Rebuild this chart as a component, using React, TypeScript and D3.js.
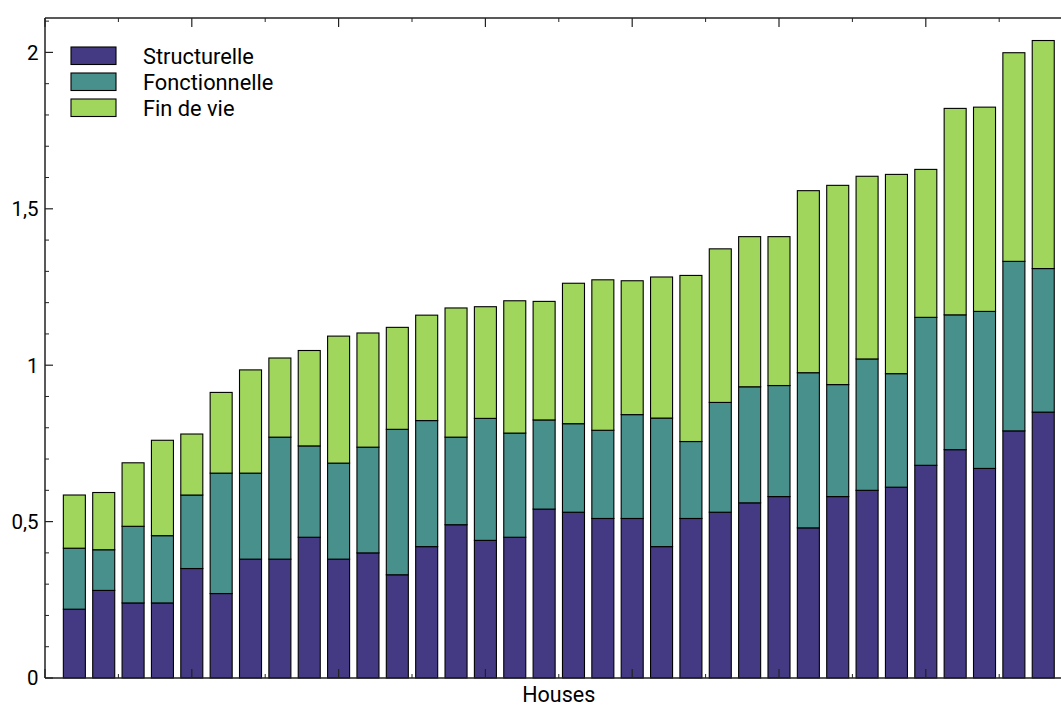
import React from "react";
import * as d3 from "d3";

const houses = d3.range(1, 35);
const structurelle = [0.22, 0.28, 0.24, 0.24, 0.35, 0.27, 0.38, 0.38, 0.45, 0.38, 0.4, 0.33, 0.42, 0.49, 0.44, 0.45, 0.54, 0.53, 0.51, 0.51, 0.42, 0.51, 0.53, 0.56, 0.58, 0.48, 0.58, 0.6, 0.61, 0.68, 0.73, 0.67, 0.79, 0.85];
const fonctionnelle = [0.195, 0.13, 0.245, 0.215, 0.235, 0.385, 0.275, 0.39, 0.292, 0.307, 0.338, 0.465, 0.403, 0.28, 0.39, 0.333, 0.285, 0.283, 0.282, 0.332, 0.411, 0.246, 0.351, 0.371, 0.355, 0.496, 0.358, 0.42, 0.363, 0.473, 0.431, 0.502, 0.542, 0.459];
const finDeVie = [0.17, 0.183, 0.203, 0.305, 0.195, 0.258, 0.33, 0.253, 0.305, 0.406, 0.365, 0.326, 0.337, 0.413, 0.357, 0.423, 0.379, 0.449, 0.481, 0.428, 0.451, 0.531, 0.491, 0.48, 0.476, 0.582, 0.637, 0.584, 0.637, 0.473, 0.66, 0.653, 0.667, 0.729];
const seriesNames = ["Structurelle", "Fonctionnelle", "Fin de vie"];
const seriesColors = ["#443a83", "#48908b", "#a0d65b"];
const yTickValues = [0, 0.5, 1, 1.5, 2];
const yTickLabels = ["0", "0,5", "1", "1,5", "2"];
const xLabel = "Houses";

const W = 1061;
const H = 706;
const left = 45;
const top = 18;
const bottom = 678;
const right = 1072.6;
const font = "Roboto, 'Noto Sans', sans-serif";
const axisColor = "#222";

export default function App() {
  const x = d3.scaleLinear().domain([0, 35]).range([left, right]);
  const y = d3.scaleLinear().domain([0, 2.11]).range([bottom, top]);
  const rows = houses.map((h, i) => ({
    h,
    s0: structurelle[i],
    s1: fonctionnelle[i],
    s2: finDeVie[i],
  }));
  const stack = d3.stack<any>().keys(["s0", "s1", "s2"])(rows);
  const bw = x(0.75) - x(0);
  const minorY = d3.range(0, 2.11, 0.1).filter((v) => Math.abs(v * 2 - Math.round(v * 2)) > 1e-6);
  const xMajor = d3.range(0, 36, 5);
  const xMinor = d3.range(2.5, 36, 5);

  return (
    <svg width={W} height={H} style={{ position: "absolute", left: 0, top: 0, background: "#fff" }} fontFamily={font}>
      {stack.map((layer, li) => (
        <g key={li}>
          {layer.map((d, i) => (
            <rect
              key={i}
              x={x(rows[i].h) - bw / 2}
              y={y(d[1])}
              width={bw}
              height={y(d[0]) - y(d[1])}
              fill={seriesColors[li]}
              stroke="#000"
              strokeWidth={1.1}
            />
          ))}
        </g>
      ))}
      {/* axes frame */}
      <line x1={left} x2={right} y1={bottom} y2={bottom} stroke={axisColor} strokeWidth={1.5} />
      <line x1={left} x2={right} y1={top} y2={top} stroke={axisColor} strokeWidth={1.5} />
      <line x1={left} x2={left} y1={top} y2={bottom} stroke={axisColor} strokeWidth={1.5} />
      <line x1={right} x2={right} y1={top} y2={bottom} stroke={axisColor} strokeWidth={1.5} />
      {/* y ticks */}
      {yTickValues.map((v, i) => (
        <g key={"yt" + i}>
          <line x1={left} x2={left + 8} y1={y(v)} y2={y(v)} stroke={axisColor} strokeWidth={1.2} />
          <line x1={right} x2={right - 8} y1={y(v)} y2={y(v)} stroke={axisColor} strokeWidth={1.2} />
          <text x={38.5} y={y(v)} dy="0.36em" textAnchor="end" fontSize={20.5} fill="#000">
            {yTickLabels[i]}
          </text>
        </g>
      ))}
      {minorY.map((v, i) => (
        <g key={"ym" + i}>
          <line x1={left} x2={left + 4} y1={y(v)} y2={y(v)} stroke={axisColor} strokeWidth={1} />
          <line x1={right} x2={right - 4} y1={y(v)} y2={y(v)} stroke={axisColor} strokeWidth={1} />
        </g>
      ))}
      {/* x ticks */}
      {xMajor.map((v, i) => (
        <g key={"xt" + i}>
          <line x1={x(v)} x2={x(v)} y1={bottom} y2={bottom - 9} stroke={axisColor} strokeWidth={1.2} />
          <line x1={x(v)} x2={x(v)} y1={top} y2={top + 9} stroke={axisColor} strokeWidth={1.2} />
        </g>
      ))}
      {xMinor.map((v, i) => (
        <g key={"xm" + i}>
          <line x1={x(v)} x2={x(v)} y1={bottom} y2={bottom - 4} stroke={axisColor} strokeWidth={1} />
          <line x1={x(v)} x2={x(v)} y1={top} y2={top + 4} stroke={axisColor} strokeWidth={1} />
        </g>
      ))}
      <text x={(left + right) / 2} y={702} textAnchor="middle" fontSize={21.5} fill="#000">
        {xLabel}
      </text>
      {/* legend */}
      {seriesNames.map((name, i) => (
        <g key={"lg" + i} transform={`translate(71, ${47 + i * 26})`}>
          <rect x={0} y={0} width={45} height={17.5} fill={seriesColors[i]} stroke="#000" strokeWidth={1.1} />
          <text x={72} y={9} dy="0.36em" fontSize={21.8} fill="#000">
            {name}
          </text>
        </g>
      ))}
    </svg>
  );
}
